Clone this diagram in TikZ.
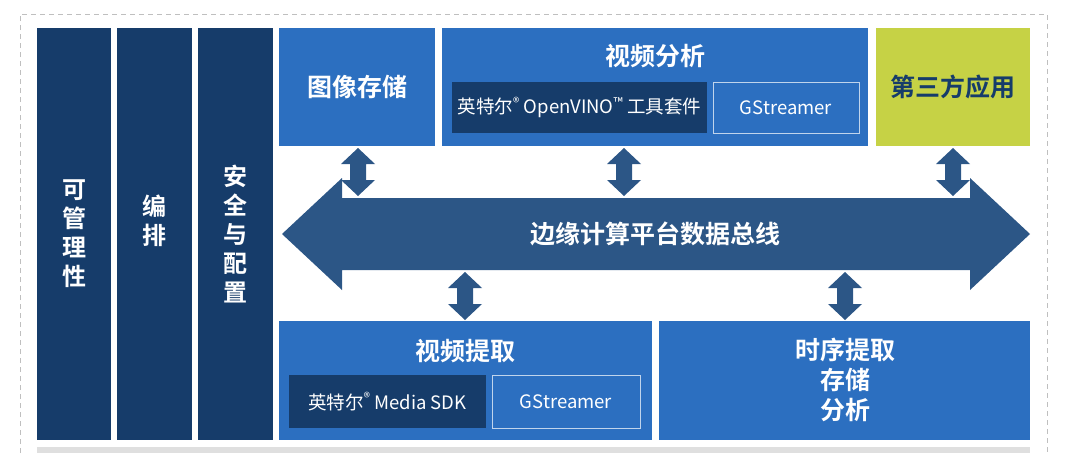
\documentclass[tikz,border=0pt]{standalone}
\usepackage{fontspec}
\setmainfont{Noto Sans CJK SC}
\newfontfamily\cjkb{Noto Sans CJK SC Bold}
\usetikzlibrary{arrows.meta}
\definecolor{navy}{HTML}{163C6A}
\definecolor{midb}{HTML}{2C6FC0}
\definecolor{arr}{HTML}{2C5686}
\definecolor{ygreen}{HTML}{C6D245}
\begin{document}
\begin{tikzpicture}[x=1pt,y=-1pt,
  colbox/.style={fill=navy,draw=none,text=white,font=\cjkb\fontsize{24}{29}\selectfont,align=center},
  bluebox/.style={fill=midb,draw=none,text=white,font=\cjkb\fontsize{25}{30}\selectfont,align=center},
  innerdark/.style={fill=navy,draw=none,text=white,font=\fontsize{18.5}{22}\selectfont},
  innerline/.style={draw=white!70!midb,line width=0.8pt,text=white,font=\fontsize{18.5}{22}\selectfont}]
\useasboundingbox (0,0) rectangle (1067,453);
\draw[gray!50,line width=1pt,dash pattern=on 5pt off 4pt] (20,453) -- (20,14) -- (1047,14) -- (1047,453);
\fill[gray!25] (37,447) rectangle (1030,453);
% left columns
\fill[navy] (37,28) rectangle (111,440);
\fill[navy] (117,28) rectangle (192,440);
\fill[navy] (198,28) rectangle (273,440);
\node[colbox] (m) at (74,234) {可\\管\\理\\性};
\node[colbox] (o) at (154.5,221) {编\\排};
\node[colbox] (s) at (235.5,234) {安\\全\\与\\配\\置};
% top boxes
\fill[midb] (279,28) rectangle (435,146);
\node[bluebox] (img) at (357,87) {图像存储};
\fill[midb] (442,28) rectangle (868,146);
\node[bluebox] (va) at (655,56) {视频分析};
\fill[navy] (452,82) rectangle (707,133);
\node[innerdark] (ov) at (579.5,107.5) {英特尔\textsuperscript{®} OpenVINO\textsuperscript{™} 工具套件};
\draw[innerline] (713,82) rectangle (859,133);
\node[text=white,font=\fontsize{18.5}{22}\selectfont] (gs1) at (786,107.5) {GStreamer};
\fill[ygreen] (876,28) rectangle (1030,146);
\node[bluebox,fill=none,text=navy] (tp) at (953,87) {第三方应用};
% bus
\fill[arr] (282,234) -- (342,178) -- (342,198) -- (970,198) -- (970,178) -- (1030,234) -- (970,290) -- (970,270) -- (342,270) -- (342,290) -- cycle;
\node[text=white,font=\cjkb\fontsize{25}{30}\selectfont] (bus) at (655,234) {边缘计算平台数据总线};
% bottom boxes
\fill[midb] (279,321) rectangle (652,440);
\node[bluebox] (vi) at (465,351) {视频提取};
\fill[navy] (289,375) rectangle (486,428);
\node[innerdark] (msdk) at (387.5,401.5) {英特尔\textsuperscript{®} Media SDK};
\draw[innerline] (492,375) rectangle (640,428);
\node[text=white,font=\fontsize{18.5}{22}\selectfont] (gs2) at (566,401.5) {GStreamer};
\fill[midb] (659,321) rectangle (1030,440);
\node[bluebox,font=\cjkb\fontsize{25}{30}\selectfont] (ts) at (845,380) {时序提取\\存储\\分析};
% small arrows
\foreach \x/\ya/\yb in {358/148/196, 624/148/196, 953/148/196, 465/272/320, 845/272/320}{
  \fill[arr] (\x,\ya) -- (\x+17,\ya+16) -- (\x+8,\ya+16) -- (\x+8,\yb-16) -- (\x+17,\yb-16) -- (\x,\yb) -- (\x-17,\yb-16) -- (\x-8,\yb-16) -- (\x-8,\ya+16) -- (\x-17,\ya+16) -- cycle;
}
\end{tikzpicture}
\end{document}
